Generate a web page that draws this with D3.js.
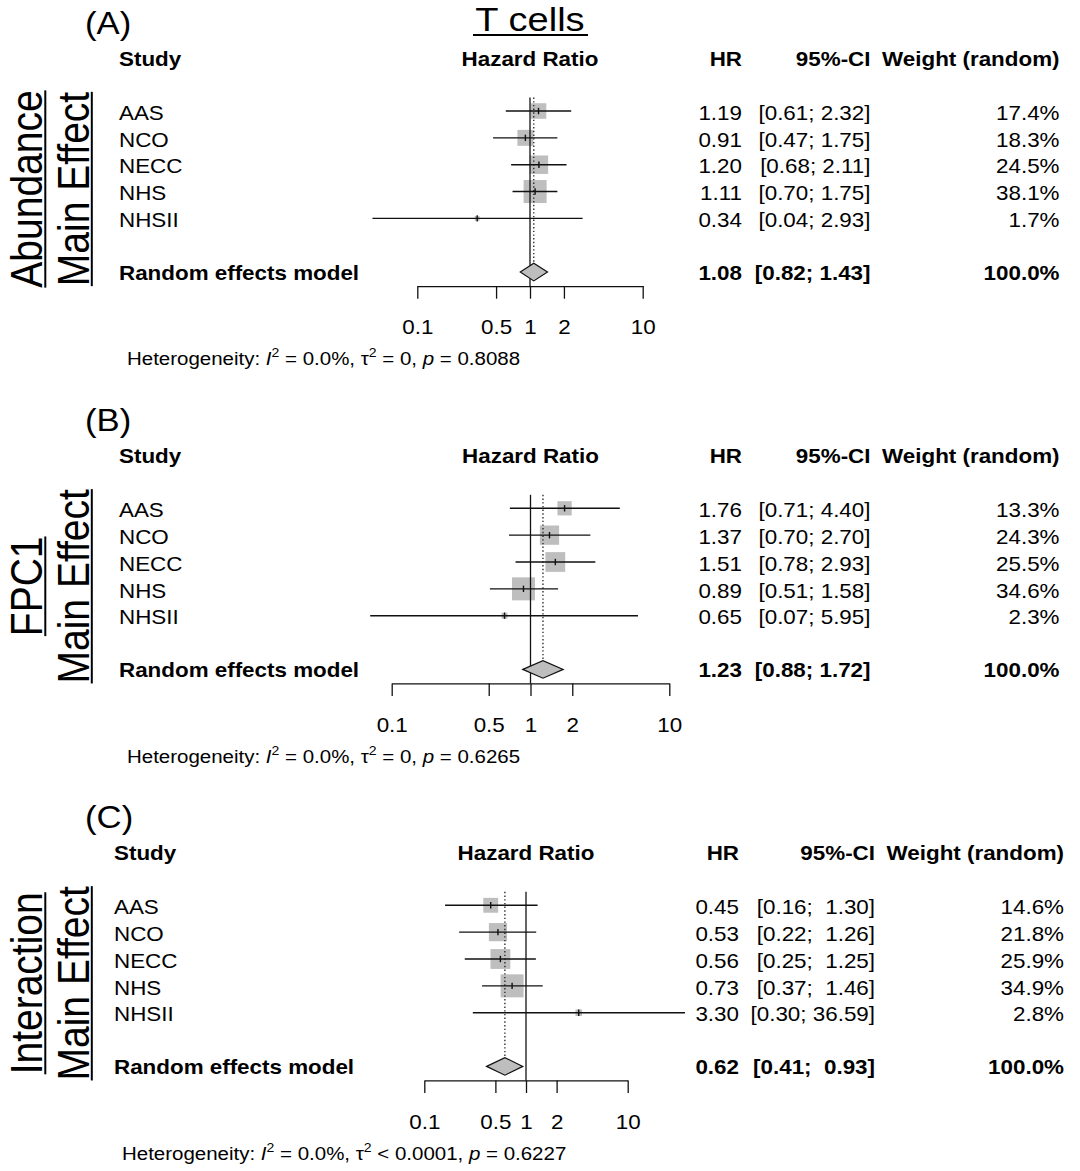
<!DOCTYPE html>
<html>
<head>
<meta charset="utf-8">
<script src="https://cdn.jsdelivr.net/npm/d3@7"></script>
<style>
  body { margin: 0; background: #fff; }
  text { font-family: "Liberation Sans", Arial, sans-serif; fill: #000; white-space: pre; }
</style>
</head>
<body>
<div id="chart"></div>
<script>
// studies shown in every panel
let studies = ["AAS", "NCO", "NECC", "NHS", "NHSII"];
let panelTags = ["(A)", "(B)", "(C)"];
let sideLabels = [["Abundance", "Main Effect"], ["FPC1", "Main Effect"], ["Interaction", "Main Effect"]];

// (A) abundance
let hrA = [1.19, 0.91, 1.20, 1.11, 0.34];
let lowA = [0.61, 0.47, 0.68, 0.70, 0.04];
let uppA = [2.32, 1.75, 2.11, 1.75, 2.93];
let weightA = [17.4, 18.3, 24.5, 38.1, 1.7];
// (B) FPC1
let hrB = [1.76, 1.37, 1.51, 0.89, 0.65];
let lowB = [0.71, 0.70, 0.78, 0.51, 0.07];
let uppB = [4.40, 2.70, 2.93, 1.58, 5.95];
let weightB = [13.3, 24.3, 25.5, 34.6, 2.3];
// (C) interaction
let hrC = [0.45, 0.53, 0.56, 0.73, 3.30];
let lowC = [0.16, 0.22, 0.25, 0.37, 0.30];
let uppC = [1.30, 1.26, 1.25, 1.46, 36.59];
let weightC = [14.6, 21.8, 25.9, 34.9, 2.8];

// random effects model
let pooledHR = [1.08, 1.23, 0.62];
let pooledLow = [0.82, 0.88, 0.41];
let pooledUpp = [1.43, 1.72, 0.93];

// heterogeneity line
let hetI2 = ["0.0%", "0.0%", "0.0%"];
let hetTau2 = ["= 0", "= 0", "< 0.0001"];
let hetP = ["0.8088", "0.6265", "0.6227"];

let axisTicks = [0.1, 0.5, 1, 2, 10];

let panels = [
  {hr: hrA, low: lowA, upp: uppA, w: weightA},
  {hr: hrB, low: lowB, upp: uppB, w: weightB},
  {hr: hrC, low: lowC, upp: uppC, w: weightC}
];

// where each panel sits on the page
let layout = [
  {top: 0,     axL: 417.3, axR: 642.7, studyX: 119, hrR: 742, ciR: 870.5, wR: 1059.5, hetX: 127},
  {top: 397.3, axL: 391.7, axR: 669.3, studyX: 119, hrR: 742, ciR: 870.5, wR: 1059.5, hetX: 127},
  {top: 794.3, axL: 424.3, axR: 627.7, studyX: 114, hrR: 739, ciR: 875,   wR: 1064,   hetX: 122}
];

let W = 1080, H = 1171;
let SX = 1.12; // picture is a bit wider than tall

let svg = d3.select("#chart")
  .append("svg")
    .attr("width", W)
    .attr("height", H)
    .style("background-color", "white");

// helper: horizontally stretched text
function addText(g, str, x, y, size, anchor, bold) {
  return g.append("text")
    .attr("transform", "translate(" + x + "," + y + ") scale(" + SX + ",1)")
    .attr("text-anchor", anchor)
    .attr("font-size", size)
    .attr("font-weight", bold ? "bold" : "normal")
    .attr("xml:space", "preserve")
    .text(str);
}

let fmt2 = d3.format(".2f");

// title
addText(svg, "T cells", 530, 31, 34, "middle", false);
svg.append("line")
  .attr("x1", 473).attr("x2", 588)
  .attr("y1", 35).attr("y2", 35)
  .attr("stroke", "black").attr("stroke-width", 2.2);

panels.forEach(function(p, k) {
  let L = layout[k];
  let g = svg.append("g").attr("transform", "translate(0," + L.top + ")");

  let x = d3.scaleLog().domain([0.1, 10]).range([L.axL, L.axR]);
  let y = d3.scaleLinear().domain([0, 6]).range([111, 111 + 6 * 26.85]);
  let axisY = y(6) + 14;
  let lineTop = y(0) - 13.5;
  let maxW = d3.max(p.w);
  let box = d3.scaleSqrt().domain([0, maxW]).range([0, 23]);

  // panel letter
  addText(g, panelTags[k], 85, 34, 31, "start", false);

  // headers
  addText(g, "Study", L.studyX, 65.5, 20, "start", true);
  addText(g, "Hazard Ratio", x(1), 65.5, 20, "middle", true);
  addText(g, "HR", L.hrR, 65.5, 20, "end", true);
  addText(g, "95%-CI", L.ciR, 65.5, 20, "end", true);
  addText(g, "Weight (random)", L.wR, 65.5, 20, "end", true);

  // rotated labels on the left, underlined
  let cy = 189;
  [42, 88.5].forEach(function(bx, j) {
    let t = g.append("text")
      .attr("transform", "translate(" + bx + "," + cy + ") scale(" + SX + ",1) rotate(-90)")
      .attr("text-anchor", "middle")
      .attr("font-size", 39)
      .text(sideLabels[k][j]);
    let len = t.node().getComputedTextLength();
    g.append("line")
      .attr("x1", bx + 3.3).attr("x2", bx + 3.3)
      .attr("y1", cy - len / 2).attr("y2", cy + len / 2)
      .attr("stroke", "black").attr("stroke-width", 2);
  });

  // squares
  g.selectAll(".sq")
    .data(p.hr)
    .enter()
    .append("rect")
      .attr("x", (d, i) => x(d) - box(p.w[i]) / 2)
      .attr("y", (d, i) => y(i) - box(p.w[i]) / 2)
      .attr("width", (d, i) => box(p.w[i]))
      .attr("height", (d, i) => box(p.w[i]))
      .attr("fill", "#bebebe");

  // no-effect line and pooled dotted line
  g.append("line")
    .attr("x1", x(1)).attr("x2", x(1))
    .attr("y1", lineTop).attr("y2", axisY)
    .attr("stroke", "#111").attr("stroke-width", 1.3);
  g.append("line")
    .attr("x1", x(pooledHR[k])).attr("x2", x(pooledHR[k]))
    .attr("y1", lineTop).attr("y2", y(6) - 8.8)
    .attr("stroke", "#222").attr("stroke-width", 1.3)
    .attr("stroke-dasharray", "1.4,2.3");

  // confidence intervals
  g.selectAll(".ci")
    .data(p.hr)
    .enter()
    .append("line")
      .attr("x1", (d, i) => x(p.low[i]))
      .attr("x2", (d, i) => x(p.upp[i]))
      .attr("y1", (d, i) => y(i))
      .attr("y2", (d, i) => y(i))
      .attr("stroke", "#111").attr("stroke-width", 1.4);
  g.selectAll(".est")
    .data(p.hr)
    .enter()
    .append("line")
      .attr("x1", d => x(d)).attr("x2", d => x(d))
      .attr("y1", (d, i) => y(i) - 3.2)
      .attr("y2", (d, i) => y(i) + 3.2)
      .attr("stroke", "#111").attr("stroke-width", 1.4);

  // diamond
  let dy = y(6);
  let pts = [[x(pooledLow[k]), dy], [x(pooledHR[k]), dy - 8.8], [x(pooledUpp[k]), dy], [x(pooledHR[k]), dy + 8.8]];
  g.append("polygon")
    .attr("points", pts.map(q => q.join(",")).join(" "))
    .attr("fill", "#bebebe")
    .attr("stroke", "#111").attr("stroke-width", 1.2);

  // text columns
  let upStr = p.upp.concat([pooledUpp[k]]).map(fmt2);
  let lowStr = p.low.concat([pooledLow[k]]).map(fmt2);
  let upLen = d3.max(upStr, s => s.length);
  let lowLen = d3.max(lowStr, s => s.length);
  function ciText(i) {
    return "[" + lowStr[i].padStart(lowLen) + "; " + upStr[i].padStart(upLen) + "]";
  }

  studies.forEach(function(s, i) {
    let by = y(i) + 8.7;
    addText(g, s, L.studyX, by, 20, "start", false);
    addText(g, fmt2(p.hr[i]), L.hrR, by, 20, "end", false);
    addText(g, ciText(i), L.ciR, by, 20, "end", false);
    addText(g, d3.format(".1f")(p.w[i]) + "%", L.wR, by, 20, "end", false);
  });
  let sy = y(6) + 8;
  addText(g, "Random effects model", L.studyX, sy, 20, "start", true);
  addText(g, fmt2(pooledHR[k]), L.hrR, sy, 20, "end", true);
  addText(g, ciText(5), L.ciR, sy, 20, "end", true);
  addText(g, "100.0%", L.wR, sy, 20, "end", true);

  // axis
  let ax = g.append("g")
    .attr("transform", "translate(0," + axisY + ")")
    .call(d3.axisBottom(x)
      .tickValues(axisTicks)
      .tickFormat(d3.format(""))
      .tickSize(12.6)
      .tickSizeOuter(0)
      .tickPadding(21.5));
  ax.select(".domain").attr("stroke", "#111").attr("stroke-width", 1.3);
  ax.selectAll(".tick line").attr("stroke", "#111").attr("stroke-width", 1.3);
  ax.selectAll(".tick text")
    .attr("font-size", 20)
    .attr("font-family", "'Liberation Sans', Arial, sans-serif")
    .attr("fill", "black")
    .attr("transform", "scale(" + SX + ",1)");

  // heterogeneity
  let het = g.append("text")
    .attr("transform", "translate(" + L.hetX + "," + (axisY + 79.3) + ") scale(" + SX + ",1)")
    .attr("font-size", 18.3)
    .attr("xml:space", "preserve");
  het.append("tspan").text("Heterogeneity: ");
  het.append("tspan").attr("font-style", "italic").text("I");
  het.append("tspan").attr("font-size", 12.5).attr("dy", -8).text("2");
  het.append("tspan").attr("dy", 8).text(" = " + hetI2[k] + ", ");
  het.append("tspan").text("\u03c4");
  het.append("tspan").attr("font-size", 12.5).attr("dy", -8).text("2");
  het.append("tspan").attr("dy", 8).text(" " + hetTau2[k] + ", ");
  het.append("tspan").attr("font-style", "italic").text("p");
  het.append("tspan").text(" = " + hetP[k]);
});
</script>
</body>
</html>
